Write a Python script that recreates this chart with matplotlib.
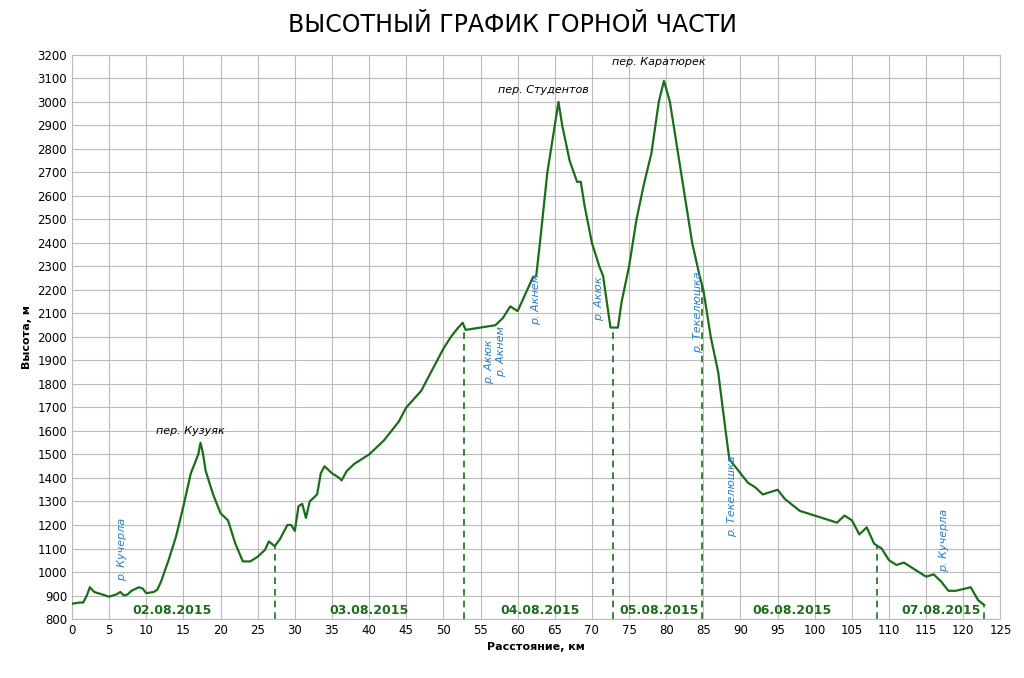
import matplotlib
matplotlib.use("Agg")
import matplotlib.pyplot as plt
import numpy as np

km = [0,1,1.5,2,2.4,3,4,5,6,6.5,7,7.5,8,9,9.5,10,11,11.5,12,13,14,15,16,17,17.3,17.6,18,19,20,21,22,23,24,25,26,26.5,27.3,28,29,29.5,30,30.5,31,31.5,32,33,33.5,34,35,36,36.3,37,38,40,42,44,45,47,48,50,51,52,52.6,53,55,57,58,59,60,61,62,62.5,63,64,65,65.5,66,67,68,68.5,69,70,71,71.5,72,72.5,73,73.5,74,75,76,77,78,79,79.7,80.5,81.5,82.5,83.5,84.5,85,86,87,88,88.5,90,91,92,93,94,95,96,98,100,102,103,104,105,106,107,108,109,110,111,112,115,116,117,118,119,121,122,122.8]
alt = [865,870,870,900,935,915,905,895,905,915,900,905,920,935,930,910,915,925,960,1050,1150,1280,1420,1500,1550,1510,1430,1330,1250,1220,1120,1045,1045,1065,1095,1130,1110,1140,1200,1200,1175,1280,1290,1230,1300,1330,1420,1450,1420,1400,1390,1430,1460,1500,1560,1640,1700,1770,1830,1950,2000,2040,2060,2030,2040,2050,2080,2130,2110,2180,2250,2260,2400,2700,2900,3000,2900,2750,2660,2660,2560,2400,2300,2260,2150,2040,2040,2040,2150,2300,2500,2650,2780,3000,3090,3000,2800,2600,2400,2260,2200,2000,1850,1600,1480,1420,1380,1360,1330,1340,1350,1310,1260,1240,1220,1210,1240,1220,1160,1190,1120,1100,1050,1030,1040,980,990,960,920,920,935,880,860]

day_bounds = [27.3, 52.8, 72.9, 84.8, 108.4, 122.8]
day_labels = ["02.08.2015","03.08.2015","04.08.2015","05.08.2015","06.08.2015","07.08.2015"]
day_label_x = [13.5, 40, 63, 79, 97, 117]
passes = [("пер. Кузуяк", 16, 1580), ("пер. Студентов", 63.5, 3030), ("пер. Каратюрек", 79, 3150)]
rivers = [("р. Кучерла", 6.8, 960), ("р. Акюк", 56.2, 1800), ("р. Акнем", 57.8, 1830),
          ("р. Акнем", 62.5, 2050), ("р. Акюк", 71, 2070), ("р. Текелюшка", 84.3, 1930),
          ("р. Текелюшка", 88.8, 1150), ("р. Кучерла", 117.4, 1000)]

fig = plt.figure(figsize=(10.24, 6.78), dpi=100)
ax = fig.add_axes([0.0703, 0.087, 0.9067, 0.832])
green = "#1a6e1a"
ax.plot(km, alt, color=green, lw=1.6, zorder=3)
for b in day_bounds:
    y = np.interp(b, km, alt)
    ax.plot([b, b], [800, y], color=green, ls=(0, (4, 3)), lw=1.2, zorder=2)
for t, x in zip(day_labels, day_label_x):
    ax.text(x, 835, t, color=green, fontsize=9, fontweight="bold", ha="center", va="center")
for t, x, y in passes:
    ax.text(x, y, t, fontsize=8, style="italic", ha="center", va="bottom")
for t, x, y in rivers:
    ax.text(x, y, t, fontsize=8, style="italic", color="#2a7fc0", rotation=90, ha="center", va="bottom")
ax.set_xlim(0, 125)
ax.set_ylim(800, 3200)
ax.set_xticks(range(0, 126, 5))
ax.set_yticks(range(800, 3201, 100))
ax.grid(True, color="#bbbbbb", lw=0.8)
ax.tick_params(labelsize=8.5, length=0)
for s in ax.spines.values():
    s.set_color("#bbbbbb")
ax.set_xlabel("Расстояние, км", fontsize=8, fontweight="bold")
ax.set_ylabel("Высота, м", fontsize=8, fontweight="bold")
fig.text(0.5, 0.963, "ВЫСОТНЫЙ ГРАФИК ГОРНОЙ ЧАСТИ", ha="center", va="center", fontsize=17)
fig.savefig("out.png", dpi=100)
